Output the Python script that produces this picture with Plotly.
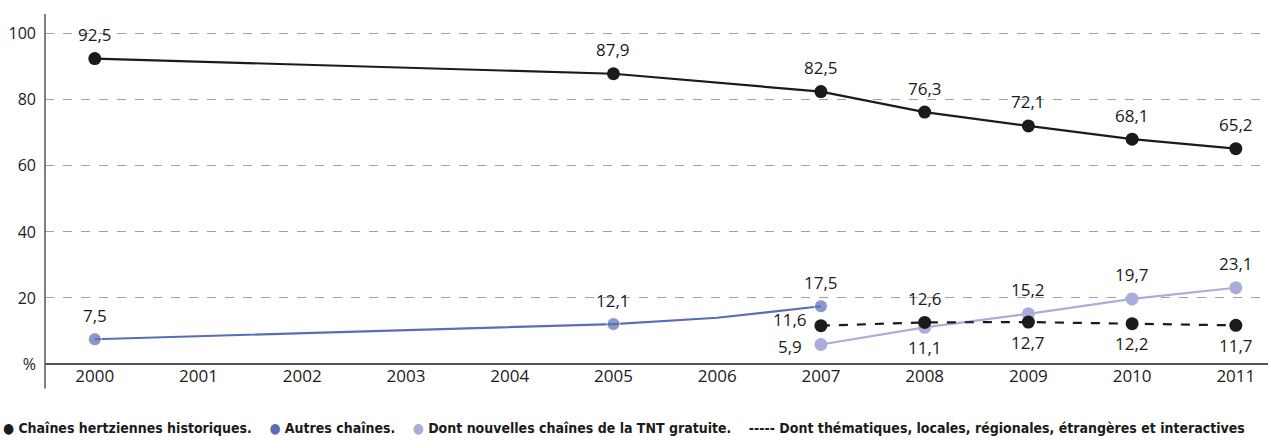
import plotly.graph_objects as go

years = [str(y) for y in range(2000, 2012)]

# values as labelled /
hist_x = [0, 5, 7, 8, 9, 10, 11]
hist_y = [92.5, 87.9, 82.5, 76.3, 72.1, 68.1, 65.2]
hist_pos = ["above"] * 7

autres_x = [0, 5, 6, 7]
autres_y = [7.5, 12.1, 14.0, 17.5]
autres_marker = [True, True, False, True]
autres_pos = ["above", "above", None, "above"]

tnt_x = [7, 8, 9, 10, 11]
tnt_y = [5.9, 11.1, 15.2, 19.7, 23.1]
tnt_pos = ["left", "below", "above", "above", "above"]

them_x = [7, 8, 9, 10, 11]
them_y = [11.6, 12.6, 12.7, 12.2, 11.7]
them_pos = ["upleft", "above", "below", "below", "below"]

BLACK = "#1b1b1b"
BLUE = "#5a6db5"
LILAC = "#a9addb"
FONT = "'Open Sans', Lato, sans-serif"
SHIFTS = {"above": (0, 24), "below": (0, -20), "left": (-31, -2), "upleft": (-31, 6)}


def fmt(v):
    return f"{v:.1f}".replace(".", ",")


fig = go.Figure()


def add_series(xs, ys, color, dash, sizes, positions):
    fig.add_trace(go.Scatter(
        x=xs, y=ys, mode="lines+markers",
        line=dict(color=color, width=2.2, dash=dash),
        marker=dict(color=color, size=sizes),
        hoverinfo="x+y",
    ))
    for x, y, p in zip(xs, ys, positions):
        if p is None:
            continue
        dx, dy = SHIFTS[p]
        fig.add_annotation(
            x=x, y=y, text=fmt(y), showarrow=False, xshift=dx, yshift=dy,
            font=dict(size=17, color=BLACK, family=FONT),
        )


add_series(hist_x, hist_y, BLACK, "solid", 13, hist_pos)
add_series(autres_x, autres_y, BLUE, "solid", [13 if m else 0 for m in autres_marker], autres_pos)
add_series(tnt_x, tnt_y, LILAC, "solid", 13, tnt_pos)
add_series(them_x, them_y, BLACK, "dash", 13, them_pos)

legend_text = (
    f"<span style='color:{BLACK}'>●</span> Chaînes hertziennes historiques.    "
    f"<span style='color:{BLUE}'>●</span> Autres chaînes.    "
    f"<span style='color:{LILAC}'>●</span> Dont nouvelles chaînes de la TNT gratuite.    "
    "----- Dont thématiques, locales, régionales, étrangères et interactives"
)
fig.add_annotation(
    xref="paper", yref="paper", x=-0.036, y=-0.183, xanchor="left", yanchor="middle",
    text="<b>" + legend_text + "</b>", showarrow=False,
    font=dict(size=14, color=BLACK, family="'Liberation Sans Narrow', 'DejaVu Sans Condensed', sans-serif"),
)

# y axis line extends below the x axis
fig.add_shape(type="line", xref="paper", yref="paper", x0=0, x1=0, y0=-0.07, y1=1,
              line=dict(color="#555555", width=1.5))

fig.update_layout(
    width=1268, height=441,
    margin=dict(l=45, r=0, t=14, b=77),
    plot_bgcolor="white", paper_bgcolor="white",
    showlegend=False,
    font=dict(family=FONT, size=17, color=BLACK),
    xaxis=dict(
        range=[-0.48, 11.31], tickmode="array", tickvals=list(range(12)), ticktext=years,
        showgrid=False, zeroline=False, showline=False, ticks="", automargin=False,
        tickfont=dict(size=17, color=BLACK),
    ),
    yaxis=dict(
        range=[0, 106], tickmode="array", tickvals=[0, 20, 40, 60, 80, 100],
        ticktext=["%", "20", "40", "60", "80", "100"],
        showgrid=True, gridcolor="#a0a0a0", griddash="dash", gridwidth=1.2,
        zeroline=True, zerolinecolor="#555555", zerolinewidth=1.8,
        showline=False, ticks="", ticklabelstandoff=8, automargin=False,
        tickfont=dict(size=16, color=BLACK),
    ),
)

# drop the default page margin so the 1268x441 figure fills the window
fig.write_html("out.html", config={"displayModeBar": False},
               post_script="document.body.style.margin='0';")
